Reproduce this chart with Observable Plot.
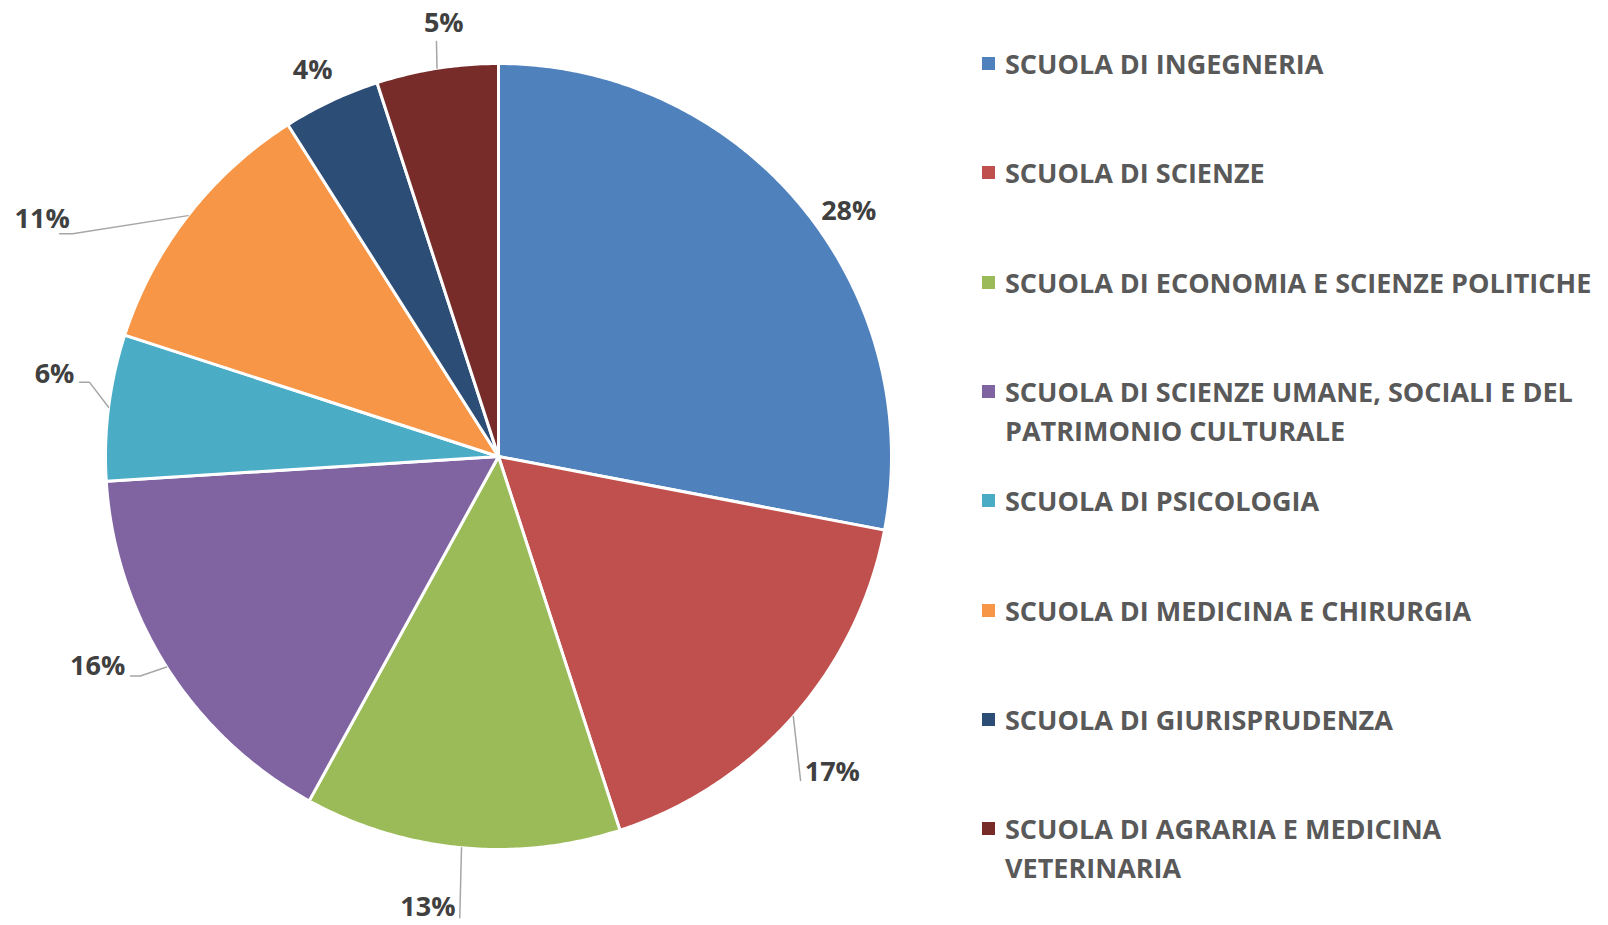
<!DOCTYPE html>
<html><head><meta charset="utf-8">
<script src="https://cdn.jsdelivr.net/npm/d3@7"></script>
<script src="https://cdn.jsdelivr.net/npm/@observablehq/plot@0.6"></script>
<style>
html,body{margin:0;padding:0;background:#fff;}
#chart{position:relative;width:1608px;height:925px;font-family:"Open Sans",sans-serif;overflow:hidden;}
#chart svg{position:absolute;left:0;top:0;overflow:visible;}
.legend-item{position:absolute;left:982px;width:626px;display:flex;align-items:flex-start;}
.swatch{width:13px;height:13px;flex:none;margin-top:13px;}
.legend-text{margin-left:10px;font-size:27px;font-weight:700;color:#595959;line-height:39px;width:602px;}
</style></head>
<body><div id="chart"></div>
<script>
// ---- data ----
const schools = [
  "SCUOLA DI INGEGNERIA",
  "SCUOLA DI SCIENZE",
  "SCUOLA DI ECONOMIA E SCIENZE POLITICHE",
  "SCUOLA DI SCIENZE UMANE, SOCIALI E DEL PATRIMONIO CULTURALE",
  "SCUOLA DI PSICOLOGIA",
  "SCUOLA DI MEDICINA E CHIRURGIA",
  "SCUOLA DI GIURISPRUDENZA",
  "SCUOLA DI AGRARIA E MEDICINA VETERINARIA"
];
const shares = [28, 17, 13, 16, 6, 11, 4, 5];
const palette = ["#4F81BD", "#C0504D", "#9BBB59", "#8064A2", "#4BACC6", "#F79646", "#2C4D75", "#772C2A"];

// ---- layout (label placement as angle in degrees clockwise from top, radius in pie radii) ----
const labelPlacement = [[55.0, 1.088], [133.4, 1.169], [188.9, 1.162], [242.4, 1.151], [280.5, 1.149], [297.5, 1.309], [334.3, 1.090], [352.8, 1.111]];
const leaderPlacement = [
  null,
  {elbow: [137.0, 1.127], stub: 0},
  {elbow: [184.8, 1.178], stub: 0},
  {elbow: [238.5, 1.069], stub: -0.025},
  {elbow: [280.3, 1.058], stub: -0.025},
  {elbow: [297.6, 1.223], stub: -0.033},
  null,
  {elbow: [351.5, 1.068], stub: 0}
];

const rad = (a) => a * Math.PI / 180;
const polar = (a, r) => [r * Math.sin(rad(a)), -r * Math.cos(rad(a))];

const total = d3.sum(shares);
let acc = 0;
const slices = schools.map((name, i) => {
  const a0 = acc / total * 360;
  acc += shares[i];
  const a1 = acc / total * 360;
  const ring = [[0, 0]];
  const n = Math.max(2, Math.ceil((a1 - a0) / 0.5));
  for (let k = 0; k <= n; ++k) ring.push(polar(a0 + (a1 - a0) * k / n, 1));
  ring.push([0, 0]);
  return {type: "Feature", properties: {name, a0, a1, mid: (a0 + a1) / 2, i}, geometry: {type: "Polygon", coordinates: [ring]}};
});

const labels = slices.map((s, i) => {
  const [x, y] = polar(labelPlacement[i][0], labelPlacement[i][1]);
  return {x, y, text: shares[i] + "%"};
});

const leaders = [];
slices.forEach((s, i) => {
  const lp = leaderPlacement[i];
  if (!lp) return;
  const p0 = polar(s.properties.mid, 1);
  const p1 = polar(lp.elbow[0], lp.elbow[1]);
  leaders.push({x: p0[0], y: p0[1], id: i});
  leaders.push({x: p1[0], y: p1[1], id: i});
  if (lp.stub) leaders.push({x: p1[0] + lp.stub, y: p1[1], id: i});
});

const plot = Plot.plot({
  width: 1608,
  height: 925,
  marginLeft: 105,
  marginRight: 717,
  marginTop: 63,
  marginBottom: 76,
  style: {fontFamily: "Open Sans", background: "white", overflow: "visible"},
  projection: {type: "identity", clip: false, domain: {type: "MultiPoint", coordinates: [[-1, -1], [1, 1]]}},
  color: {domain: schools, range: palette},
  marks: [
    Plot.geo(slices, {fill: (d) => d.properties.name, stroke: "white", strokeWidth: 3, strokeLinejoin: "round"}),
    Plot.line(leaders, {x: "x", y: "y", z: "id", stroke: "#A6A6A6", strokeWidth: 1.5, curve: "linear"}),
    Plot.text(labels, {x: "x", y: "y", text: "text", fontSize: 27, fontWeight: "bold", fill: "#404040", fontFamily: "Open Sans"})
  ]
});

const chart = document.getElementById("chart");
chart.appendChild(plot);

const slotTop = 63.6, slotStep = 109.3, lineH = 39;
schools.forEach((name, i) => {
  const item = document.createElement("div");
  item.className = "legend-item";
  item.style.top = (slotTop + i * slotStep - lineH / 2) + "px";
  const sw = document.createElement("div");
  sw.className = "swatch";
  sw.style.background = palette[i];
  const tx = document.createElement("div");
  tx.className = "legend-text";
  tx.textContent = name;
  item.appendChild(sw);
  item.appendChild(tx);
  chart.appendChild(item);
});
</script></body></html>
